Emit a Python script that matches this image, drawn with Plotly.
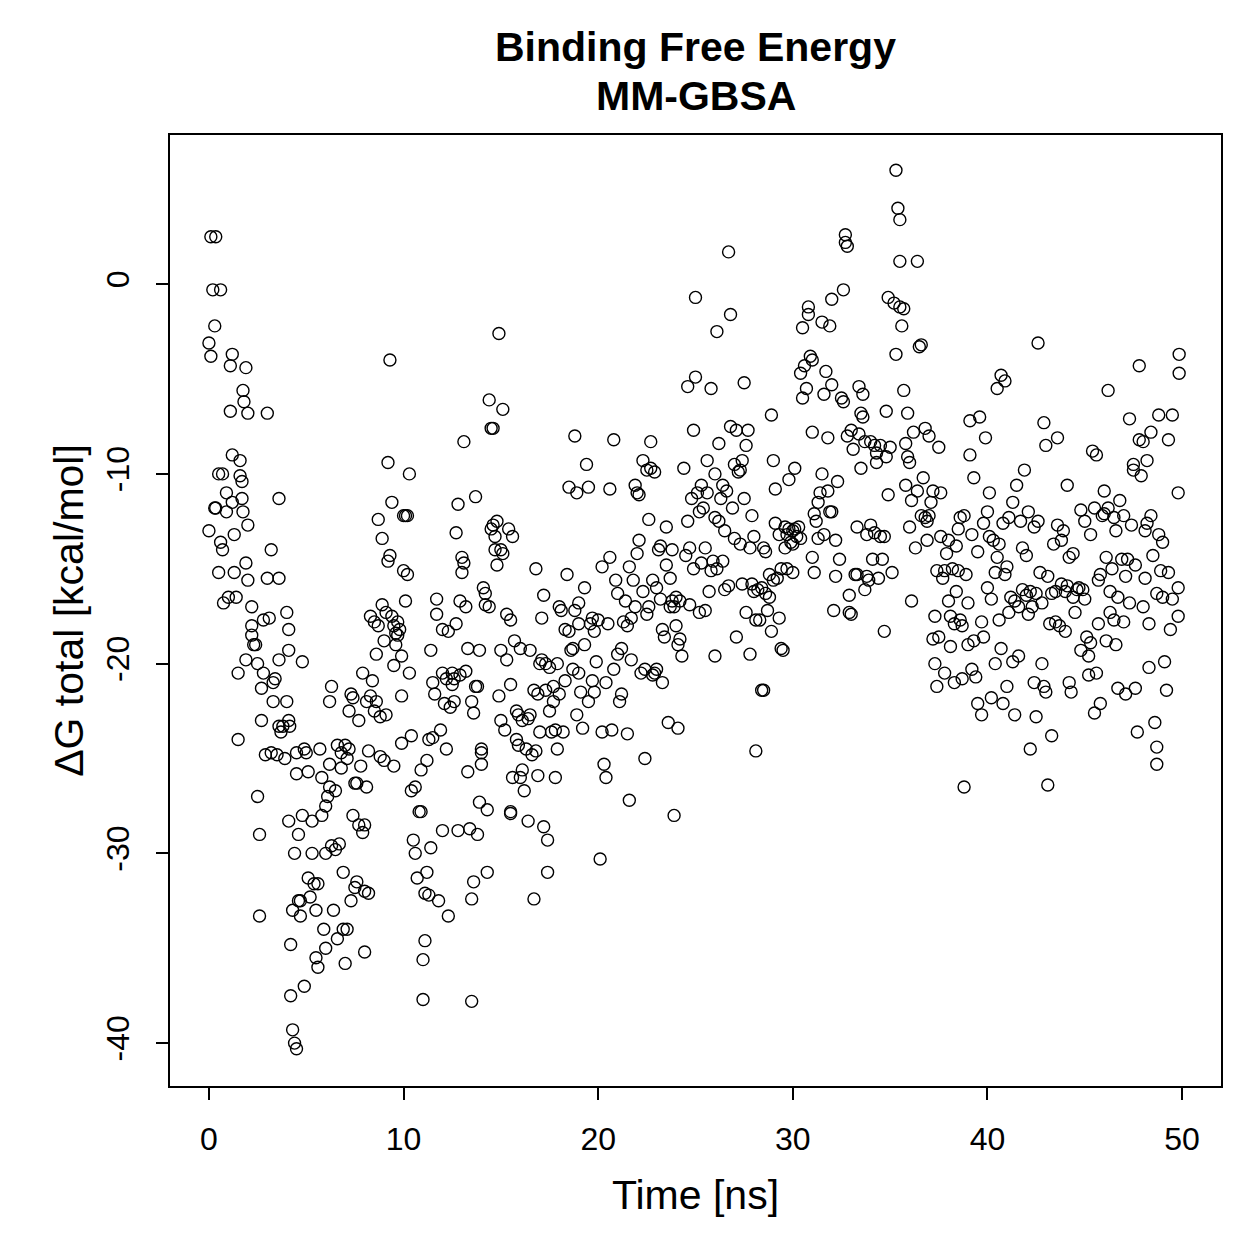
import plotly.graph_objects as go

# Time [ns] of each frame (segment by segment)
time_ns = [
    0.0,0.1,0.1,0.35,0.2,0.6,0.3,0.0,0.3,0.35,0.5,0.7,0.5,0.6,0.7,0.75,0.9,0.9,1.0,
    1.1,1.2,1.1,1.2,1.3,1.2,1.3,1.4,1.5,1.5,1.6,1.6,1.7,1.7,1.75,1.75,1.8,1.9,2.0,1.9,1.9,2.0,2.0,
    2.2,2.2,2.2,2.3,2.4,2.5,2.5,2.6,2.6,2.7,2.7,2.8,2.8,2.9,3.0,3.0,3.1,3.2,3.2,3.3,3.3,3.4,3.5,3.6,3.6,3.6,3.6,3.7,3.8,
    3.9,4.0,4.0,4.1,4.1,4.1,4.15,4.1,4.2,4.2,4.3,4.3,4.4,4.4,4.5,4.5,4.5,4.6,4.6,4.7,4.7,4.8,4.8,4.9,4.9,5.0,5.1,
    5.1,5.2,5.3,5.3,5.4,5.5,5.5,5.6,5.6,5.7,5.8,5.8,5.9,6.0,6.0,6.0,6.1,6.2,6.2,6.2,6.3,6.3,6.4,6.5,
    6.5,6.6,6.6,6.7,6.8,6.8,6.9,6.9,7.0,7.0,7.1,7.1,7.2,7.2,7.3,7.3,7.4,7.4,7.5,7.5,7.6,7.6,7.7,7.7,7.8,7.9,7.9,8.0,8.0,8.0,8.1,8.1,8.2,
    8.2,8.3,8.3,8.4,8.5,8.5,8.6,8.6,8.7,8.7,8.8,8.8,8.9,8.9,9.0,9.0,9.1,9.1,9.2,9.2,9.3,9.3,9.4,9.4,9.5,9.5,9.5,9.6,9.6,9.7,9.7,9.8,9.9,9.9,9.9,10.0,10.0,
    10.1,10.1,10.2,10.2,10.3,10.3,10.4,10.4,10.5,10.6,10.6,10.7,10.8,10.9,10.9,11.0,11.0,11.1,11.1,11.2,11.2,11.3,11.3,11.4,11.4,11.5,11.5,11.6,11.7,11.7,11.8,11.9,12.0,12.0,12.0,
    12.1,12.2,12.2,12.3,12.3,12.4,12.5,12.5,12.6,12.6,12.7,12.7,12.8,12.8,12.9,12.9,13.0,13.0,13.1,13.1,13.2,13.2,13.3,13.3,13.4,13.5,13.5,13.5,13.6,13.6,13.7,13.7,13.8,13.8,13.9,13.9,14.0,14.0,14.0,
    14.1,14.2,14.2,14.3,14.3,14.4,14.4,14.5,14.5,14.6,14.6,14.7,14.7,14.8,14.8,14.9,14.9,15.0,15.0,15.0,15.1,15.1,15.2,15.3,15.3,15.4,15.5,15.5,15.5,15.5,15.6,15.6,15.7,15.8,15.8,15.9,15.9,16.0,16.0,
    16.1,16.1,16.2,16.3,16.4,16.4,16.5,16.5,16.6,16.7,16.7,16.8,16.8,16.9,16.9,17.0,17.0,17.1,17.1,17.2,17.2,17.3,17.3,17.4,17.4,17.5,17.5,17.6,17.7,17.7,17.8,17.8,17.9,17.9,18.0,18.0,
    18.1,18.2,18.3,18.3,18.4,18.5,18.5,18.6,18.7,18.7,18.8,18.8,18.9,18.9,19.0,19.0,19.0,19.1,19.2,19.3,19.3,19.4,19.5,19.5,19.6,19.7,19.7,19.8,19.8,19.9,20.0,20.1,20.2,
    20.2,20.3,20.4,20.4,20.5,20.6,20.6,20.7,20.8,20.8,20.9,21.0,21.0,21.1,21.2,21.2,21.3,21.4,21.5,21.5,21.6,21.6,21.7,21.7,21.8,21.9,21.9,22.0,22.0,22.1,22.1,
    22.2,22.3,22.3,22.4,22.4,22.5,22.5,22.6,22.6,22.7,22.7,22.8,22.8,22.9,22.9,23.0,23.0,23.1,23.2,23.2,23.3,23.3,23.4,23.5,23.5,23.6,23.7,23.7,23.8,23.8,23.9,23.9,24.0,24.0,24.1,
    24.1,24.2,24.2,24.3,24.4,24.5,24.6,24.6,24.7,24.7,24.8,24.9,24.9,25.0,25.0,25.1,25.2,25.2,25.3,25.3,25.4,25.5,25.5,25.6,25.6,25.7,25.8,25.8,26.1,25.9,26.0,26.0,26.0,
    26.1,26.2,26.2,26.3,26.4,26.4,26.5,26.5,26.6,26.7,26.8,26.8,26.7,26.9,27.0,27.0,27.1,27.1,27.2,27.3,27.3,27.4,27.4,27.5,27.5,27.6,27.6,27.7,27.8,27.8,27.9,27.9,28.0,28.0,
    28.1,28.1,28.2,28.3,28.4,28.4,28.5,28.5,28.6,28.6,28.7,28.8,28.8,28.9,28.9,29.0,29.0,29.1,29.1,29.2,29.3,29.3,29.4,29.4,29.5,29.6,29.6,29.7,29.7,29.8,29.8,29.9,30.0,30.0,30.0,
    30.1,30.1,30.2,30.3,30.4,30.4,30.5,30.5,30.6,30.7,30.8,30.8,30.9,31.0,31.0,31.0,31.1,31.1,31.2,31.3,31.3,31.4,31.5,31.5,31.6,31.6,31.7,31.8,31.8,31.9,31.9,32.0,32.0,32.0,
    32.1,32.2,32.2,32.3,32.4,32.5,32.6,32.6,32.7,32.7,32.8,32.8,32.9,32.9,33.0,33.0,33.1,33.2,33.3,33.3,33.4,33.4,33.5,33.5,33.6,33.6,33.7,33.7,33.8,33.8,33.9,34.0,34.0,
    34.1,34.2,34.2,34.3,34.3,34.4,34.5,34.5,34.6,34.7,34.7,34.8,34.8,34.9,34.9,35.0,35.1,35.2,35.3,35.3,35.4,35.5,35.5,35.5,35.6,35.7,35.7,35.8,35.8,35.9,35.9,36.0,36.0,
    36.1,36.1,36.2,36.3,36.4,36.4,36.5,36.6,36.6,36.7,36.8,36.8,36.9,36.9,37.0,37.0,37.1,37.2,37.2,37.3,37.3,37.4,37.4,37.5,37.5,37.6,37.6,37.7,37.8,37.8,37.9,38.0,38.0,
    38.1,38.1,38.2,38.3,38.3,38.4,38.4,38.5,38.5,38.6,38.6,38.7,38.7,38.8,38.8,38.9,39.0,39.0,39.1,39.1,39.2,39.2,39.3,39.3,39.4,39.5,39.5,39.6,39.7,39.7,39.8,39.8,39.9,40.0,40.0,
    40.1,40.1,40.2,40.2,40.3,40.4,40.4,40.5,40.5,40.6,40.6,40.7,40.7,40.8,40.8,40.9,40.9,41.0,41.0,41.1,41.1,41.2,41.3,41.3,41.4,41.4,41.5,41.6,41.6,41.7,41.8,41.8,41.9,42.0,42.0,
    42.1,42.1,42.2,42.2,42.3,42.4,42.4,42.5,42.5,42.6,42.6,42.7,42.8,42.8,42.9,42.9,43.0,43.0,43.1,43.1,43.2,43.3,43.3,43.4,43.5,43.5,43.6,43.6,43.7,43.8,43.8,43.9,44.0,44.0,
    44.1,44.1,44.2,44.2,44.3,44.4,44.4,44.5,44.6,44.7,44.8,44.8,44.9,45.0,45.0,45.1,45.2,45.2,45.3,45.3,45.4,45.5,45.5,45.6,45.6,45.7,45.7,45.8,45.8,45.9,46.0,46.0,
    46.1,46.1,46.2,46.2,46.3,46.3,46.4,46.5,46.5,46.6,46.6,46.7,46.7,46.8,46.9,47.0,47.0,47.1,47.1,47.2,47.3,47.3,47.4,47.5,47.5,47.6,47.6,47.7,47.8,47.8,47.9,48.0,
    48.0,48.1,48.1,48.2,48.2,48.3,48.3,48.4,48.4,48.5,48.6,48.7,48.7,48.7,48.8,48.8,48.9,49.0,49.0,49.1,49.2,49.3,49.3,49.4,49.5,49.5,49.85,49.85,49.8,49.8,49.8,
]

# Delta G total [kcal/mol] of each frame, same order as time_ns
dg_total = [
    -3.1,-3.8,2.5,2.5,-0.3,-0.3,-2.2,-13.0,-11.8,-11.8,-10.0,-10.0,-15.2,-13.6,-14.0,-16.8,-12.0,-11.0,-16.5,
    -4.3,-3.7,-6.7,-9.0,-15.2,-11.5,-13.2,-16.5,-20.5,-24.0,-9.3,-10.1,-11.3,-10.4,-12.0,-5.6,-6.2,-4.4,-6.8,-14.7,-19.8,-15.6,-12.7,
    -17.0,-18.0,-18.5,-19.0,-19.0,-20.0,-27.0,-33.3,-29.0,-23.0,-21.3,-17.7,-20.5,-24.8,-6.8,-15.5,-17.6,-14.0,-24.7,-21.0,-22.0,-20.8,-24.8,-15.5,-11.3,-19.8,-23.3,-23.6,-23.3,
    -25.0,-17.3,-22.0,-18.2,-19.3,-23.0,-23.3,-28.3,-37.5,-34.8,-33.0,-39.3,-30.0,-40.0,-40.3,-25.8,-24.7,-29.0,-32.5,-33.3,-32.5,-19.9,-28.0,-37.0,-24.5,-24.7,-25.7,
    -31.3,-32.3,-28.3,-30.0,-31.6,-33.0,-35.5,-36.0,-31.6,-24.5,-28.0,-26.0,-34.0,-35.0,-30.0,-27.5,-27.0,-26.5,-25.3,-22.0,-21.2,-29.6,-33.0,-29.8,
    -26.7,-24.3,-34.5,-29.5,-24.7,-25.5,-31.0,-34.0,-35.8,-24.3,-25.0,-34.0,-24.5,-22.5,-21.6,-32.5,-21.8,-28.0,-31.8,-26.3,-26.3,-31.5,-23.0,-28.5,-25.4,-20.5,-28.9,-28.5,-35.2,-32.0,-22.0,-26.5,-32.1,
    -24.6,-21.7,-17.5,-20.9,-22.5,-17.8,-22.0,-19.5,-12.4,-18.0,-22.8,-24.9,-13.4,-16.9,-25.1,-18.8,-17.3,-22.7,-14.6,-9.4,-4.0,-14.3,-11.5,-17.5,-18.0,-25.4,-20.1,-18.4,-19.0,-17.8,-18.5,-18.2,-21.7,-19.6,-24.2,-15.1,-12.2,
    -12.2,-16.7,-12.2,-15.3,-10.0,-20.5,-23.8,-26.7,-29.3,-26.5,-30.0,-31.3,-27.8,-27.8,-25.6,-35.6,-37.7,-34.6,-32.1,-31.0,-25.1,-24.0,-32.2,-29.7,-19.3,-21.0,-23.9,-21.6,-16.6,-17.4,-32.5,-23.5,-20.5,-28.8,-18.2,
    -22.1,-20.8,-24.5,-18.3,-33.3,-22.3,-20.5,-21.1,-20.8,-22.0,-13.1,-17.9,-11.6,-28.8,-20.6,-16.7,-14.4,-15.2,-14.7,-8.3,-17.0,-20.4,-19.2,-25.7,-28.7,-22.0,-37.8,-32.4,-31.5,-22.6,-21.2,-11.2,-21.2,-29.0,-27.3,-19.3,-24.5,-24.7,-25.3,
    -16.0,-16.9,-16.3,-31.0,-27.7,-6.1,-17.0,-7.6,-12.9,-7.6,-12.7,-14.0,-13.3,-12.5,-14.8,-2.6,-21.7,-19.3,-23.0,-14.0,-6.6,-14.2,-23.5,-17.4,-19.8,-12.9,-17.7,-27.8,-27.9,-21.1,-26.0,-13.3,-18.8,-22.5,-24.0,-24.3,-22.7,-19.2,-26.0,
    -23.0,-25.6,-26.7,-24.5,-22.9,-28.3,-22.7,-19.3,-24.8,-32.4,-21.4,-15.0,-24.6,-21.6,-25.9,-20.0,-23.6,-19.8,-17.6,-28.6,-16.4,-21.4,-20.0,-31.0,-29.3,-22.5,-20.2,-23.6,-22.0,-21.2,-26.0,-23.5,-20.0,-24.5,-17.0,-21.6,
    -17.2,-23.6,-20.9,-18.2,-15.3,-10.7,-18.3,-19.3,-20.3,-19.2,-17.2,-8.0,-11.0,-22.7,-17.9,-16.8,-20.5,-21.5,-23.4,-16.0,-19.0,-9.5,-10.7,-22.0,-17.9,-20.9,-17.6,-21.5,-18.3,-19.9,-17.7,-30.3,-23.6,
    -14.9,-25.3,-26.0,-21.0,-17.9,-10.8,-14.4,-23.5,-20.3,-8.2,-15.6,-19.5,-16.3,-22.0,-19.2,-21.6,-17.8,-16.7,-18.0,-23.7,-27.2,-14.9,-17.6,-19.8,-15.6,-10.6,-17.0,-11.0,-14.2,-13.5,-11.1,
    -20.5,-9.3,-16.2,-20.3,-25.0,-9.8,-17.4,-12.4,-17.0,-9.7,-8.3,-15.6,-20.6,-9.9,-20.5,-16.0,-20.3,-14.0,-13.8,-16.6,-18.2,-21.0,-18.6,-12.8,-14.8,-23.1,-15.5,-17.0,-16.7,-14.0,-17.0,-28.0,-18.0,-16.5,-23.4,
    -19.0,-18.7,-16.7,-19.6,-9.7,-14.3,-5.4,-12.5,-16.9,-13.9,-11.3,-15.0,-7.7,-0.7,-4.9,-11.0,-12.0,-17.3,-14.7,-10.6,-11.8,-17.2,-13.9,-9.3,-11.0,-16.2,-5.5,-15.1,-2.5,-14.6,-10.0,-19.6,-12.3,
    -15.0,-8.4,-12.5,-11.3,-14.6,-10.6,-13.0,-16.1,-10.9,-15.9,-1.6,-7.5,1.7,-11.8,-9.5,-13.4,-7.7,-18.6,-9.9,-13.7,-9.8,-15.8,-9.3,-5.2,-11.3,-8.5,-17.3,-7.7,-13.9,-19.5,-12.2,-15.8,-16.2,-13.3,
    -17.7,-24.6,-16.1,-17.7,-16.0,-21.4,-21.4,-13.9,-14.1,-16.3,-17.2,-15.3,-16.5,-6.9,-18.3,-9.3,-15.6,-12.6,-10.8,-15.5,-13.2,-17.6,-19.2,-15.0,-19.3,-12.8,-13.9,-15.0,-13.2,-12.9,-10.3,-13.6,-13.0,-15.2,-13.7,
    -9.7,-12.9,-13.3,-12.8,-13.4,-4.7,-2.3,-6.0,-4.3,-5.5,-1.2,-1.6,-3.8,-4.0,-7.8,-14.4,-12.1,-15.2,-12.5,-13.4,-11.5,-11.0,-10.0,-2.0,-13.2,-5.8,-4.6,-10.9,-8.1,-2.2,-12.0,-5.3,-0.8,-12.0,
    -17.2,-13.5,-15.4,-10.4,-14.5,-6.0,-6.2,-0.3,2.6,2.2,2.0,-8.0,-16.4,-17.3,-7.7,-17.4,-8.7,-15.3,-12.8,-15.3,-7.9,-5.4,-9.7,-6.8,-7.0,-5.8,-16.1,-8.3,-15.4,-13.2,-15.6,-12.7,-8.3,
    -14.5,-8.5,-13.1,-9.4,-8.9,-15.5,-8.5,-13.3,-14.5,-18.3,-13.3,-6.7,-9.1,-11.1,-0.7,-8.6,-15.2,-1.0,-3.7,6.0,4.0,3.4,1.2,-1.2,-2.2,-1.3,-5.6,-8.4,-10.6,-6.8,-9.1,-12.8,-9.4,
    -11.4,-16.7,-7.8,-13.9,-10.9,1.2,-3.3,-3.2,-12.2,-10.2,-7.6,-12.3,-12.5,-13.5,-8.0,-12.2,-11.5,-10.9,-18.7,-20.0,-17.5,-15.1,-21.2,-8.6,-18.6,-11.0,-13.3,-15.5,-20.5,-15.1,-14.2,-16.7,-13.5,
    -17.5,-19.1,-15.0,-21.0,-17.9,-13.8,-16.2,-12.9,-15.1,-12.3,-17.7,-18.0,-20.8,-12.2,-26.5,-15.3,-16.8,-19.0,-7.2,-9.0,-20.3,-13.2,-18.8,-10.2,-20.7,-22.1,-14.1,-7.0,-22.7,-17.8,-12.6,-18.6,-8.1,-12.0,-16.0,
    -11.0,-13.3,-16.6,-21.8,-13.5,-15.2,-20.0,-5.5,-14.4,-13.7,-17.7,-4.8,-19.2,-12.6,-22.1,-5.1,-15.3,-14.9,-21.2,-12.3,-17.3,-16.5,-19.9,-11.5,-16.7,-22.7,-10.6,-17.0,-19.6,-12.5,-13.9,-16.1,-9.8,-16.4,-14.3,
    -12.0,-17.4,-16.2,-24.5,-17.0,-12.8,-21.0,-16.3,-22.8,-3.1,-12.5,-15.2,-16.8,-20.0,-7.3,-21.2,-8.5,-21.5,-15.4,-26.4,-17.9,-23.8,-16.3,-13.7,-16.2,-17.8,-12.7,-8.1,-18.0,-13.5,-15.8,-13.0,-18.3,-16.2,
    -10.6,-15.9,-14.4,-21.0,-21.5,-16.5,-14.2,-17.3,-16.1,-16.0,-11.9,-19.3,-16.1,-16.6,-12.5,-18.6,-19.6,-20.6,-13.2,-18.9,-8.8,-11.8,-22.6,-9.0,-20.5,-15.6,-17.9,-22.1,-15.3,-12.2,-10.9,-12.1,
    -18.8,-14.4,-5.6,-11.8,-16.2,-17.3,-15.0,-12.3,-17.7,-19.0,-13.0,-21.3,-16.5,-11.4,-14.5,-17.8,-12.2,-15.4,-21.6,-14.5,-16.8,-7.1,-12.7,-9.8,-9.5,-14.8,-21.3,-23.6,-8.2,-4.3,-10.1,-17.0,
    -8.3,-13.0,-15.5,-12.6,-9.3,-20.2,-17.9,-7.8,-12.2,-14.3,-23.1,-24.4,-25.3,-16.3,-6.9,-13.2,-15.1,-16.5,-13.6,-19.9,-21.4,-8.2,-15.2,-18.2,-6.9,-16.6,-3.7,-4.7,-11.0,-17.5,-16.0,
]

x_ticks = [0, 10, 20, 30, 40, 50]
x_tick_labels = ["0", "10", "20", "30", "40", "50"]
y_ticks = [0, -10, -20, -30, -40]
y_tick_labels = ["0", "-10", "-20", "-30", "-40"]

FONT = "Liberation Sans, Arial, Helvetica, sans-serif"
TICK_SIZE = 32
LABEL_SIZE = 41
TITLE_SIZE = 41

fig = go.Figure()
fig.add_trace(go.Scatter(
    x=time_ns, y=dg_total, mode="markers",
    marker=dict(symbol="circle-open", size=12, color="black", line=dict(width=1.4, color="black")),
    showlegend=False, hoverinfo="skip",
))

axis_common = dict(
    showgrid=False, zeroline=False, showline=True, mirror=True,
    linecolor="black", linewidth=2, ticks="outside", ticklen=12, tickwidth=2,
    tickcolor="black", tickfont=dict(family=FONT, size=TICK_SIZE, color="black"),
)

fig.update_layout(
    width=1259, height=1259,
    paper_bgcolor="white", plot_bgcolor="white",
    margin=dict(l=170, r=38, t=135, b=173),
    font=dict(family=FONT, color="black"),
    xaxis=dict(range=[-2, 52], tickvals=x_ticks, ticktext=x_tick_labels, ticklabelstandoff=12,
               title=dict(text="Time [ns]", font=dict(family=FONT, size=LABEL_SIZE, color="black"), standoff=24),
               **axis_common),
    yaxis=dict(range=[-42.26, 7.86], tickvals=y_ticks, ticktext=y_tick_labels, tickangle=-90,
               ticklabelstandoff=14,
               title=dict(text="ΔG total [kcal/mol]", font=dict(family=FONT, size=LABEL_SIZE, color="black"), standoff=4),
               **axis_common),
)

# title lines placed at their pixel centres
plot_h = 1259 - 135 - 173
fig.add_annotation(text="<b>Binding Free Energy</b>", x=0.5, y=(1259 - 173 - 47) / plot_h,
                   xref="paper", yref="paper", yanchor="middle", showarrow=False,
                   font=dict(family=FONT, size=TITLE_SIZE, color="black"))
fig.add_annotation(text="<b>MM-GBSA</b>", x=0.5, y=(1259 - 173 - 96) / plot_h,
                   xref="paper", yref="paper", yanchor="middle", showarrow=False,
                   font=dict(family=FONT, size=TITLE_SIZE, color="black"))

fig.write_html("out.html")
